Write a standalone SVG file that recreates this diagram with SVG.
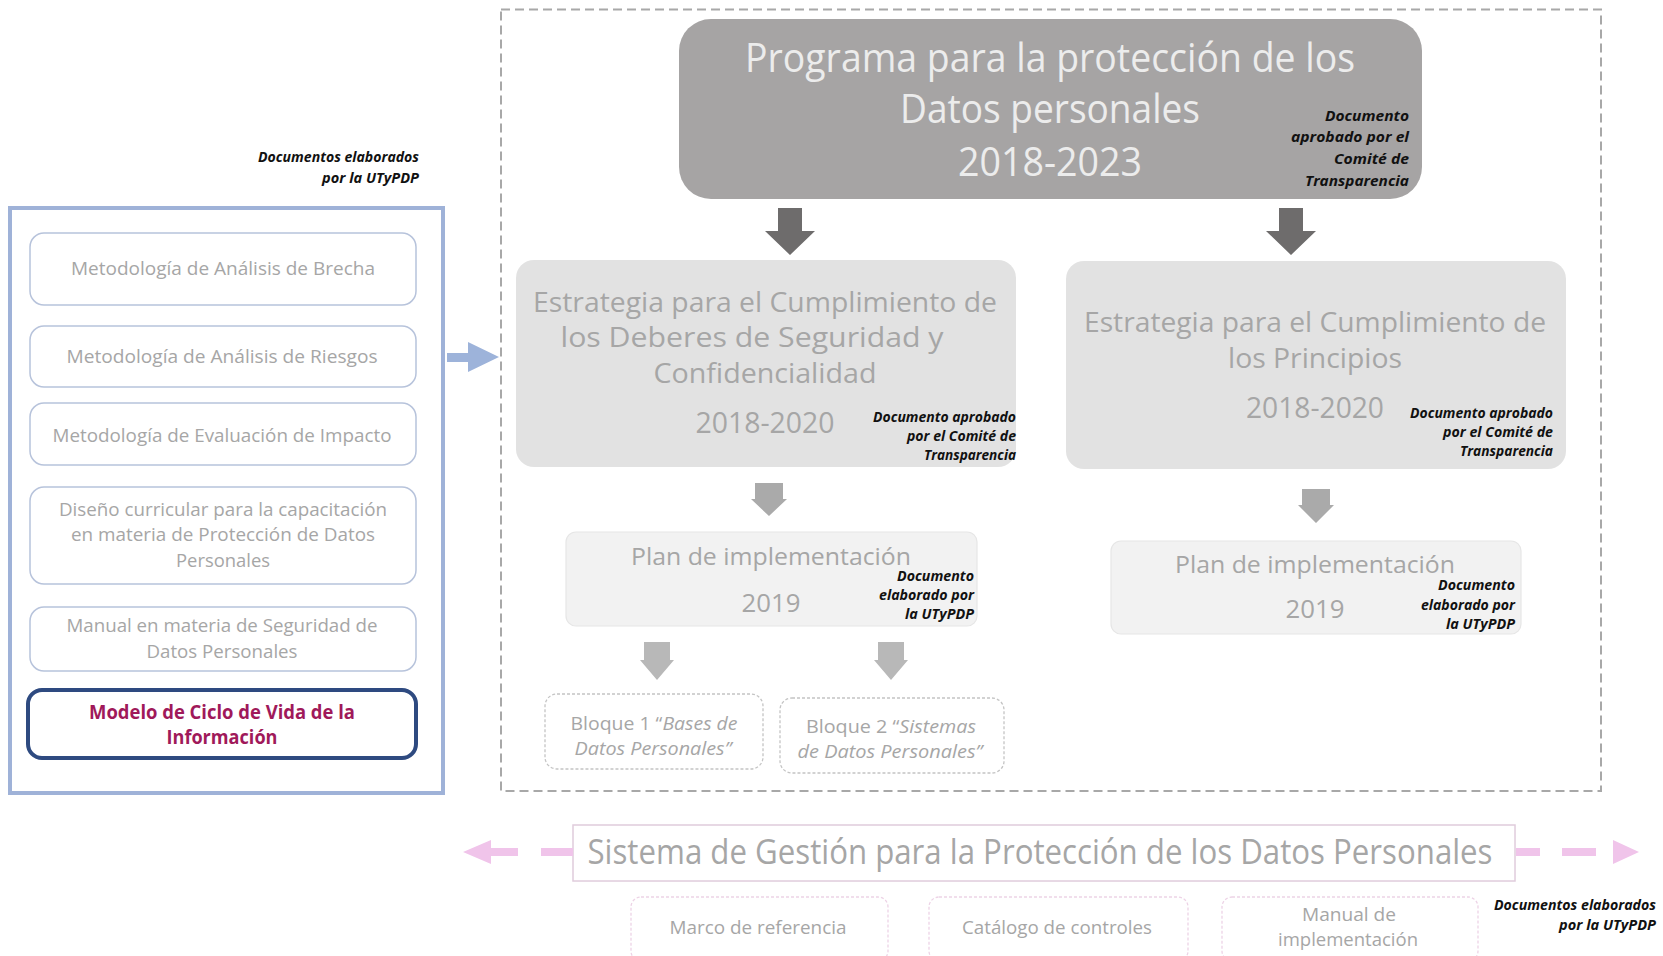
<svg xmlns="http://www.w3.org/2000/svg" width="1663" height="956" viewBox="0 0 1663 956">
<style>
text{font-family:"Open Sans","Liberation Sans",sans-serif;}
.c{text-anchor:middle}
.g{fill:#A6A6A6}
.w{fill:#ECECEC}
.n{font-weight:700;font-style:italic;fill:#111111;text-anchor:end;font-size:14px}
.lb{fill:#FFFFFF;stroke:#B7C3DB;stroke-width:1.5}
.da{fill:#6E6C6C}
.ma{fill:#AAAAAA}
.sa{fill:#B8B8B8}
.pk{fill:#F0C4EA}
.bb{fill:#FFFFFF;stroke:#C4C4C4;stroke-width:1.3;stroke-dasharray:3 2}
.pb{fill:#FFFFFF;stroke:#EDD3E6;stroke-width:1.3;stroke-dasharray:3 2}
</style>
<rect width="1663" height="956" fill="#FFFFFF"/>

<g id="left-panel">
  <rect x="10" y="208" width="433" height="585" fill="#FFFFFF" stroke="#9FB2D8" stroke-width="4"/>
  <text class="n" x="419" y="162" textLength="161" lengthAdjust="spacingAndGlyphs">Documentos elaborados</text>
  <text class="n" x="419" y="183" textLength="97" lengthAdjust="spacingAndGlyphs">por la UTyPDP</text>
</g>
<g id="n-brecha">
  <rect class="lb" x="30" y="233" width="386" height="72" rx="14"/>
  <text class="c g" x="223" y="275" font-size="19" textLength="304" lengthAdjust="spacingAndGlyphs">Metodología de Análisis de Brecha</text>
</g>
<g id="n-riesgos">
  <rect class="lb" x="30" y="326" width="386" height="61" rx="14"/>
  <text class="c g" x="222" y="363" font-size="19" textLength="311" lengthAdjust="spacingAndGlyphs">Metodología de Análisis de Riesgos</text>
</g>
<g id="n-impacto">
  <rect class="lb" x="30" y="403" width="386" height="62" rx="14"/>
  <text class="c g" x="222" y="442" font-size="19" textLength="339" lengthAdjust="spacingAndGlyphs">Metodología de Evaluación de Impacto</text>
</g>
<g id="n-diseno">
  <rect class="lb" x="30" y="487" width="386" height="97" rx="14"/>
  <text class="c g" x="223" y="516" font-size="19" textLength="328" lengthAdjust="spacingAndGlyphs">Diseño curricular para la capacitación</text>
  <text class="c g" x="223" y="541" font-size="19" textLength="304" lengthAdjust="spacingAndGlyphs">en materia de Protección de Datos</text>
  <text class="c g" x="223" y="567" font-size="19" textLength="94" lengthAdjust="spacingAndGlyphs">Personales</text>
</g>
<g id="n-manual">
  <rect class="lb" x="30" y="607" width="386" height="64" rx="14"/>
  <text class="c g" x="222" y="632" font-size="19" textLength="311" lengthAdjust="spacingAndGlyphs">Manual en materia de Seguridad de</text>
  <text class="c g" x="222" y="658" font-size="19" textLength="151" lengthAdjust="spacingAndGlyphs">Datos Personales</text>
</g>
<g id="n-modelo">
  <rect x="28" y="690" width="388" height="68" rx="14" fill="#FFFFFF" stroke="#2E4A80" stroke-width="4"/>
  <text class="c" x="222" y="719" font-size="19" font-weight="700" fill="#A0195A" textLength="266" lengthAdjust="spacingAndGlyphs">Modelo de Ciclo de Vida de la</text>
  <text class="c" x="222" y="744" font-size="19" font-weight="700" fill="#A0195A" textLength="111" lengthAdjust="spacingAndGlyphs">Información</text>
</g>

<g id="frame">
  <rect x="501" y="9.5" width="1100" height="781.5" fill="none" stroke="#A8A8A8" stroke-width="2" stroke-dasharray="9 5"/>
</g>

<g id="n-programa">
  <rect x="679" y="19" width="743" height="180" rx="32" fill="#A6A4A4"/>
  <text class="c w" x="1050" y="72" font-size="41" textLength="610" lengthAdjust="spacingAndGlyphs">Programa para la protección de los</text>
  <text class="c w" x="1050" y="123" font-size="41" textLength="300" lengthAdjust="spacingAndGlyphs">Datos personales</text>
  <text class="c w" x="1050" y="176" font-size="41" textLength="184" lengthAdjust="spacingAndGlyphs">2018-2023</text>
  <text class="n" x="1409" y="121" font-size="15" textLength="84" lengthAdjust="spacingAndGlyphs">Documento</text>
  <text class="n" x="1409" y="142" font-size="15" textLength="118" lengthAdjust="spacingAndGlyphs">aprobado por el</text>
  <text class="n" x="1409" y="164" font-size="15" textLength="75" lengthAdjust="spacingAndGlyphs">Comité de</text>
  <text class="n" x="1409" y="186" font-size="15" textLength="104" lengthAdjust="spacingAndGlyphs">Transparencia</text>
</g>

<g id="n-estrategia-seguridad">
  <rect x="516" y="260" width="500" height="207" rx="18" fill="#E2E2E2"/>
  <text class="c g" x="765" y="312" font-size="28" textLength="464" lengthAdjust="spacingAndGlyphs">Estrategia para el Cumplimiento de</text>
  <text class="c g" x="752" y="347" font-size="28" textLength="383" lengthAdjust="spacingAndGlyphs">los Deberes de Seguridad y</text>
  <text class="c g" x="765" y="383" font-size="28" textLength="223" lengthAdjust="spacingAndGlyphs">Confidencialidad</text>
  <text class="c g" x="765" y="433" font-size="30" textLength="139" lengthAdjust="spacingAndGlyphs">2018-2020</text>
  <text class="n" x="1016" y="422" textLength="143" lengthAdjust="spacingAndGlyphs">Documento aprobado</text>
  <text class="n" x="1016" y="441" textLength="109" lengthAdjust="spacingAndGlyphs">por el Comité de</text>
  <text class="n" x="1016" y="460" textLength="92" lengthAdjust="spacingAndGlyphs">Transparencia</text>
</g>

<g id="n-estrategia-principios">
  <rect x="1066" y="261" width="500" height="208" rx="18" fill="#E2E2E2"/>
  <text class="c g" x="1315" y="332" font-size="28" textLength="462" lengthAdjust="spacingAndGlyphs">Estrategia para el Cumplimiento de</text>
  <text class="c g" x="1315" y="368" font-size="28" textLength="174" lengthAdjust="spacingAndGlyphs">los Principios</text>
  <text class="c g" x="1315" y="418" font-size="30" textLength="138" lengthAdjust="spacingAndGlyphs">2018-2020</text>
  <text class="n" x="1553" y="418" textLength="143" lengthAdjust="spacingAndGlyphs">Documento aprobado</text>
  <text class="n" x="1553" y="437" textLength="110" lengthAdjust="spacingAndGlyphs">por el Comité de</text>
  <text class="n" x="1553" y="456" textLength="93" lengthAdjust="spacingAndGlyphs">Transparencia</text>
</g>

<g id="n-plan-1">
  <rect x="566" y="532" width="411" height="94" rx="10" fill="#F2F2F2" stroke="#E6E6E6" stroke-width="1.2"/>
  <text class="c g" x="771" y="565" font-size="24" textLength="280" lengthAdjust="spacingAndGlyphs">Plan de implementación</text>
  <text class="c g" x="771" y="612" font-size="25" textLength="59" lengthAdjust="spacingAndGlyphs">2019</text>
  <text class="n" x="974" y="581" textLength="77" lengthAdjust="spacingAndGlyphs">Documento</text>
  <text class="n" x="974" y="600" textLength="95" lengthAdjust="spacingAndGlyphs">elaborado por</text>
  <text class="n" x="974" y="619" textLength="69" lengthAdjust="spacingAndGlyphs">la UTyPDP</text>
</g>

<g id="n-plan-2">
  <rect x="1111" y="541" width="410" height="93" rx="10" fill="#F2F2F2" stroke="#E6E6E6" stroke-width="1.2"/>
  <text class="c g" x="1315" y="573" font-size="24" textLength="280" lengthAdjust="spacingAndGlyphs">Plan de implementación</text>
  <text class="c g" x="1315" y="618" font-size="25" textLength="59" lengthAdjust="spacingAndGlyphs">2019</text>
  <text class="n" x="1515" y="590" textLength="77" lengthAdjust="spacingAndGlyphs">Documento</text>
  <text class="n" x="1515" y="610" textLength="94" lengthAdjust="spacingAndGlyphs">elaborado por</text>
  <text class="n" x="1515" y="629" textLength="69" lengthAdjust="spacingAndGlyphs">la UTyPDP</text>
</g>

<g id="n-bloque-1">
  <rect class="bb" x="545" y="694" width="218" height="75" rx="12"/>
  <text class="c g" x="654" y="730" font-size="19" textLength="167" lengthAdjust="spacingAndGlyphs">Bloque 1 “<tspan font-style="italic">Bases de</tspan></text>
  <text class="c g" x="653" y="755" font-size="19" font-style="italic" textLength="157" lengthAdjust="spacingAndGlyphs">Datos Personales”</text>
</g>

<g id="n-bloque-2">
  <rect class="bb" x="780" y="698" width="224" height="75" rx="12"/>
  <text class="c g" x="891" y="733" font-size="19" textLength="170" lengthAdjust="spacingAndGlyphs">Bloque 2 “<tspan font-style="italic">Sistemas</tspan></text>
  <text class="c g" x="890" y="758" font-size="19" font-style="italic" textLength="185" lengthAdjust="spacingAndGlyphs">de Datos Personales”</text>
</g>

<g id="n-sistema">
  <rect x="573" y="825" width="942" height="56" fill="#FFFFFF" stroke="#E0CCDC" stroke-width="1.5"/>
  <text class="c g" x="1040" y="864" font-size="34" textLength="905" lengthAdjust="spacingAndGlyphs">Sistema de Gestión para la Protección de los Datos Personales</text>
</g>

<g id="n-marco">
  <rect class="pb" x="631" y="897" width="257" height="64" rx="10"/>
  <text class="c g" x="758" y="934" font-size="19" textLength="177" lengthAdjust="spacingAndGlyphs">Marco de referencia</text>
</g>
<g id="n-catalogo">
  <rect class="pb" x="929" y="897" width="259" height="64" rx="10"/>
  <text class="c g" x="1057" y="934" font-size="19" textLength="190" lengthAdjust="spacingAndGlyphs">Catálogo de controles</text>
</g>
<g id="n-manual-impl">
  <rect class="pb" x="1222" y="897" width="256" height="64" rx="10"/>
  <text class="c g" x="1349" y="921" font-size="19" textLength="94" lengthAdjust="spacingAndGlyphs">Manual de</text>
  <text class="c g" x="1348" y="946" font-size="19" textLength="140" lengthAdjust="spacingAndGlyphs">implementación</text>
</g>
<g id="note-bottom">
  <text class="n" x="1656" y="910" textLength="162" lengthAdjust="spacingAndGlyphs">Documentos elaborados</text>
  <text class="n" x="1656" y="930" textLength="97" lengthAdjust="spacingAndGlyphs">por la UTyPDP</text>
</g>

<g id="connectors">
  <polygon fill="#9DB3DA" points="447,353 468,353 468,342 499,357 468,372 468,362 447,362"/>
  <polygon class="da" points="778,208 802,208 802,231 815,231 790,255 765,231 778,231"/>
  <polygon class="da" points="1279,208 1303,208 1303,231 1316,231 1291,255 1266,231 1279,231"/>
  <polygon class="ma" points="755,483 783,483 783,499 787,499 769,516 751,499 755,499"/>
  <polygon class="ma" points="1302,489 1330,489 1330,505 1334,505 1316,523 1298,505 1302,505"/>
  <polygon class="sa" points="644,642 670,642 670,660 674,660 657,680 640,660 644,660"/>
  <polygon class="sa" points="878,642 904,642 904,660 908,660 891,680 874,660 878,660"/>
  <polygon class="pk" points="463,852 491,840 491,848 518,848 518,856 491,856 491,864"/>
  <rect class="pk" x="541" y="848" width="32" height="8"/>
  <rect class="pk" x="1516" y="848" width="24" height="8"/>
  <rect class="pk" x="1562" y="848" width="34" height="8"/>
  <polygon class="pk" points="1613,840 1639,852 1613,864"/>
</g>
</svg>
